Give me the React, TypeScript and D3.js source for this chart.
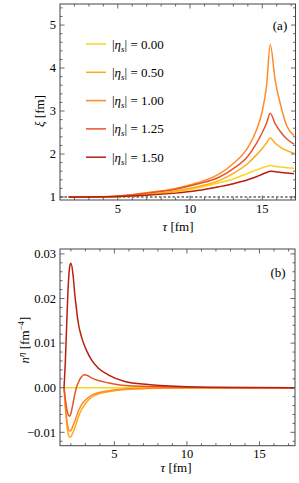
import React from 'react';
import * as d3 from 'd3';

// panel (a): correlation length xi vs tau
const tauA = [1.6, 3, 5, 7, 9, 10.5, 12, 13, 14, 14.6, 15, 15.3, 15.55, 15.9, 16.3, 16.7, 17.2];
const xi000 = [1.0, 1.0, 1.01, 1.05, 1.12, 1.21, 1.33, 1.42, 1.55, 1.63, 1.68, 1.71, 1.73, 1.71, 1.70, 1.68, 1.67];
const xi050 = [1.0, 1.0, 1.01, 1.06, 1.14, 1.24, 1.38, 1.55, 1.78, 1.98, 2.13, 2.26, 2.37, 2.25, 2.15, 2.08, 2.02];
const xi100 = [1.0, 1.0, 1.02, 1.10, 1.20, 1.33, 1.53, 1.78, 2.15, 2.56, 3.0, 3.6, 4.54, 3.70, 3.1, 2.65, 2.43];
const xi125 = [1.0, 1.0, 1.02, 1.09, 1.18, 1.30, 1.46, 1.66, 1.95, 2.25, 2.5, 2.72, 2.95, 2.7, 2.5, 2.35, 2.23];
const xi150 = [1.0, 1.0, 1.01, 1.04, 1.09, 1.15, 1.24, 1.31, 1.40, 1.47, 1.53, 1.57, 1.60, 1.59, 1.57, 1.56, 1.54];

// panel (b): n^eta vs tau
const tauB = [1.53, 1.62, 1.72, 1.82, 1.92, 2.0, 2.15, 2.27, 2.38, 2.49, 2.72, 2.91, 3.1, 3.41, 3.88, 4.57, 5.72, 7.33, 10, 13, 17.4];
const n000 = [0, 0, 0, 0, 0, 0, 0, 0, 0, 0, 0, 0, 0, 0, 0, 0, 0, 0, 0, 0, 0];
const n050 = [0, -0.0045, -0.0082, -0.0104, -0.0111, -0.0110, -0.0100, -0.0090, -0.0079, -0.0068, -0.0050, -0.0040, -0.0032, -0.0022, -0.0014, -0.0009, -0.0004, -0.00015, -0.00004, 0, 0];
const n100 = [0, -0.004, -0.0072, -0.0091, -0.0097, -0.0096, -0.0085, -0.0075, -0.0065, -0.0055, -0.0039, -0.0031, -0.0025, -0.0017, -0.0011, -0.0007, -0.0003, -0.0001, -0.00003, 0, 0];
const n125 = [0, -0.0025, -0.0048, -0.0061, -0.0064, -0.0058, -0.0035, -0.0015, 0, 0.0010, 0.0024, 0.0029, 0.0028, 0.0022, 0.0016, 0.0011, 0.0005, 0.0003, 0.0001, 0.00003, 0];
const n150 = [0, 0.006, 0.015, 0.023, 0.0272, 0.0279, 0.0253, 0.0209, 0.0178, 0.0149, 0.0115, 0.0097, 0.0082, 0.0063, 0.0044, 0.0029, 0.0014, 0.0007, 0.0002, 0.00005, 0];

const etaLabels = ['0.00', '0.50', '1.00', '1.25', '1.50'];
const colors = ['#FFD21E', '#FFAA12', '#FF8A2A', '#E5552A', '#BA1E0E'];

const xTicksMajor = [5, 10, 15];
const yTicksA = [1, 2, 3, 4, 5];
const yTicksB = [-0.01, 0, 0.01, 0.02, 0.03];

const font = 'Liberation Serif, Times New Roman, Times, DejaVu Serif, serif';

type FrameProps = {
  x: d3.ScaleLinear<number, number>;
  y: d3.ScaleLinear<number, number>;
  xMinor: number[];
  yMajor: number[];
  yMinor: number[];
  yFmt: (v: number) => string;
  labelDy: number;
};

const Frame = ({ x, y, xMinor, yMajor, yMinor, yFmt, labelDy }: FrameProps) => {
  const [x0, x1] = x.range();
  const [y0, y1] = y.range();
  const stroke = '#444';
  return (
    <g style={{ fontFamily: font }} fontSize={12.5} fill="#000">
      {xMinor.map((t, i) => {
        const major = xTicksMajor.includes(t);
        const len = major ? 4.5 : 2.5;
        return (
          <g key={'x' + i}>
            <line x1={x(t)} x2={x(t)} y1={y0} y2={y0 - len} stroke={stroke} strokeWidth={0.8} />
            <line x1={x(t)} x2={x(t)} y1={y1} y2={y1 + len} stroke={stroke} strokeWidth={0.8} />
          </g>
        );
      })}
      {yMinor.map((t, i) => {
        const major = yMajor.some(m => Math.abs(m - t) < 1e-9);
        const len = major ? 4.5 : 2.5;
        return (
          <g key={'y' + i}>
            <line x1={x0} x2={x0 + len} y1={y(t)} y2={y(t)} stroke={stroke} strokeWidth={0.8} />
            <line x1={x1} x2={x1 - len} y1={y(t)} y2={y(t)} stroke={stroke} strokeWidth={0.8} />
          </g>
        );
      })}
      {xTicksMajor.map(t => (
        <text key={'xl' + t} x={x(t)} y={y0 + labelDy} textAnchor="middle">{t}</text>
      ))}
      {yMajor.map(t => (
        <text key={'yl' + t} x={x0 - 4} y={y(t) + 4.3} textAnchor="end">{yFmt(t)}</text>
      ))}
      <rect x={x0} y={y1} width={x1 - x0} height={y0 - y1} fill="none" stroke={stroke} strokeWidth={1} />
    </g>
  );
};

const App = () => {
  const width = 299;
  const height = 483;

  const xA = d3.scaleLinear().domain([1.0, 17.3]).range([60, 295.5]);
  const yA = d3.scaleLinear().domain([0.93, 5.49]).range([200, 4]);
  const xB = d3.scaleLinear().domain([1.25, 17.45]).range([60, 295]);
  const yB = d3.scaleLinear().domain([-0.013, 0.0311]).range([445.7, 249]);

  const seriesA = [xi000, xi050, xi100, xi125, xi150];
  const seriesB = [n000, n050, n100, n125, n150];

  const lineA = d3.line<number>()
    .x((_, i) => xA(tauA[i]))
    .y(d => yA(d))
    .curve(d3.curveMonotoneX);
  const lineB = d3.line<number>()
    .x((_, i) => xB(tauB[i]))
    .y(d => yB(d))
    .curve(d3.curveMonotoneX);

  const minorX = d3.range(2, 18, 1);
  const minorYA = d3.range(1, 5.5, 0.2).map(v => +v.toFixed(2));
  const minorYB = d3.range(-0.012, 0.031, 0.002).map(v => +v.toFixed(4));

  return (
    <svg width={width} height={height} style={{ position: 'absolute', left: 0, top: 0, background: '#fff', fontFamily: font }}>
      <defs>
        <clipPath id="clipA"><rect x={60} y={4} width={235.5} height={196} /></clipPath>
        <clipPath id="clipB"><rect x={60} y={249} width={235} height={196.7} /></clipPath>
      </defs>

      {/* panel a */}
      <line x1={60} x2={295.5} y1={yA(1)} y2={yA(1)} stroke="#000" strokeWidth={0.9} strokeDasharray="2.5,2" />
      <g clipPath="url(#clipA)">
        {seriesA.map((s, i) => (
          <path key={i} d={lineA(s) || ''} fill="none" stroke={colors[i]} strokeWidth={1.5} />
        ))}
      </g>
      <Frame x={xA} y={yA} xMinor={minorX} yMajor={yTicksA} yMinor={minorYA} yFmt={v => String(v)} labelDy={13} />
      <g style={{ fontFamily: font }} fontSize={13}>
        {etaLabels.map((l, i) => {
          const yy = 44 + i * 28.3;
          return (
            <g key={l}>
              <line x1={86} x2={106} y1={yy} y2={yy} stroke={colors[i]} strokeWidth={1.5} />
              <text x={112} y={yy + 4.5}>
                |<tspan fontStyle="italic">η</tspan><tspan fontStyle="italic" fontSize={9} dy={3}>s</tspan><tspan dy={-3}>| = {l}</tspan>
              </text>
            </g>
          );
        })}
        <text x={280} y={29.5} textAnchor="middle">(a)</text>
        <text x={178} y={231} textAnchor="middle"><tspan fontStyle="italic">τ</tspan> [fm]</text>
        <text transform="translate(44,111) rotate(-90)" textAnchor="middle"><tspan fontStyle="italic">ξ</tspan> [fm]</text>
      </g>

      {/* panel b */}
      <g clipPath="url(#clipB)">
        {seriesB.map((s, i) => (
          <path key={i} d={lineB(s) || ''} fill="none" stroke={colors[i]} strokeWidth={1.5} />
        ))}
      </g>
      <Frame x={xB} y={yB} xMinor={minorX} yMajor={yTicksB} yMinor={minorYB} yFmt={v => v < 0 ? '\u2212' + Math.abs(v).toFixed(2) : v.toFixed(2)} labelDy={11.8} />
      <g style={{ fontFamily: font }} fontSize={13}>
        <text x={278} y={276.5} textAnchor="middle">(b)</text>
        <text x={176} y={472} textAnchor="middle"><tspan fontStyle="italic">τ</tspan> [fm]</text>
        <text transform="translate(29,340) rotate(-90)" textAnchor="middle">
          <tspan fontStyle="italic">n</tspan><tspan fontStyle="italic" fontSize={9} dy={-5}>η</tspan><tspan dy={5}> [fm</tspan><tspan fontSize={9} dy={-5}>−4</tspan><tspan dy={5}>]</tspan>
        </text>
      </g>
    </svg>
  );
};

export default App;
